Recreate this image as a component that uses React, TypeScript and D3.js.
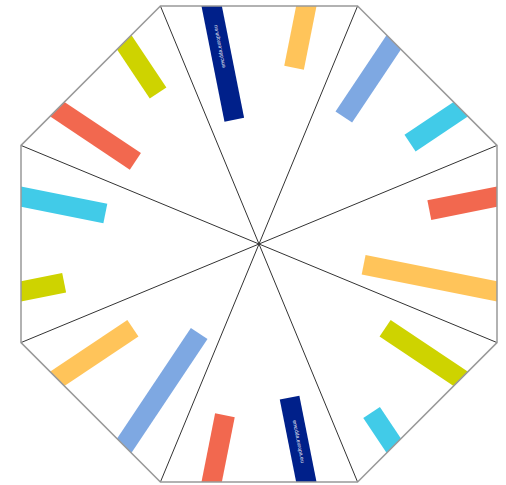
import React from "react";
import * as d3 from "d3";

// bar lengths measured inward from the octagon edge, clockwise from top
const categories = [
  "a1", "a2", "b1", "b2", "c1", "c2", "d1", "d2",
  "e1", "e2", "f1", "f2", "g1", "g2", "h1", "h2",
];
const values = [116, 63, 90, 61, 69, 136, 91, 40, 86, 68, 135, 91, 44, 86, 94, 61];
const colors = [
  "#00208A", "#FFC45A", "#7EA8E2", "#41CBE8", "#F2684F", "#FFC45A", "#CED300", "#41CBE8",
  "#00208A", "#F2684F", "#7EA8E2", "#FFC45A", "#CED300", "#41CBE8", "#F2684F", "#CED300",
];
const labels = [
  "emcdda.europa.eu", "", "", "", "", "", "", "",
  "emcdda.europa.eu", "", "", "", "", "", "", "",
];

const W = 506;
const H = 485;
const cx = 259;
const cy = 244;
const apothem = 238;
const circum = apothem / Math.cos(Math.PI / 8);
const barW = 20;

export default function App() {
  const angle = d3
    .scaleBand<string>()
    .domain(categories)
    .range([-22.5, 337.5]);
  const edgeR = apothem / Math.cos(Math.PI / 16);
  const r = d3.scaleLinear().domain([0, edgeR]).range([edgeR, 0]);

  const verts = d3.range(8).map((k) => {
    const a = ((22.5 + 45 * k) * Math.PI) / 180;
    return [circum * Math.sin(a), -circum * Math.cos(a)] as [number, number];
  });
  const poly = verts.map((v) => v.join(",")).join(" ");

  return (
    <svg
      width={W}
      height={H}
      style={{ position: "absolute", left: 0, top: 0, background: "#fff" }}
    >
      <defs>
        <clipPath id="oct">
          <polygon points={poly} />
        </clipPath>
      </defs>
      <g transform={`translate(${cx},${cy})`}>
        <g clipPath="url(#oct)">
          {categories.map((c, i) => {
            const a = (angle(c) as number) + angle.bandwidth() / 2;
            const r0 = r(values[i]);
            return (
              <g key={c} transform={`rotate(${a})`}>
                <rect
                  x={-barW / 2}
                  y={-(edgeR + 30)}
                  width={barW}
                  height={edgeR + 30 - r0}
                  fill={colors[i]}
                />
                {labels[i] && (
                  <text
                    transform={`translate(0,${-223}) rotate(-90)`}
                    textAnchor="end"
                    dominantBaseline="middle"
                    fontFamily="Liberation Sans, Arial, sans-serif"
                    fontSize={5.2}
                    fill="#fff"
                  >
                    {labels[i]}
                  </text>
                )}
              </g>
            );
          })}
        </g>
        {verts.map((v, k) => (
          <line
            key={k}
            x1={0}
            y1={0}
            x2={v[0]}
            y2={v[1]}
            stroke="#333"
            strokeWidth={1}
          />
        ))}
        <polygon points={poly} fill="none" stroke="#999" strokeWidth={1.5} />
      </g>
    </svg>
  );
}
